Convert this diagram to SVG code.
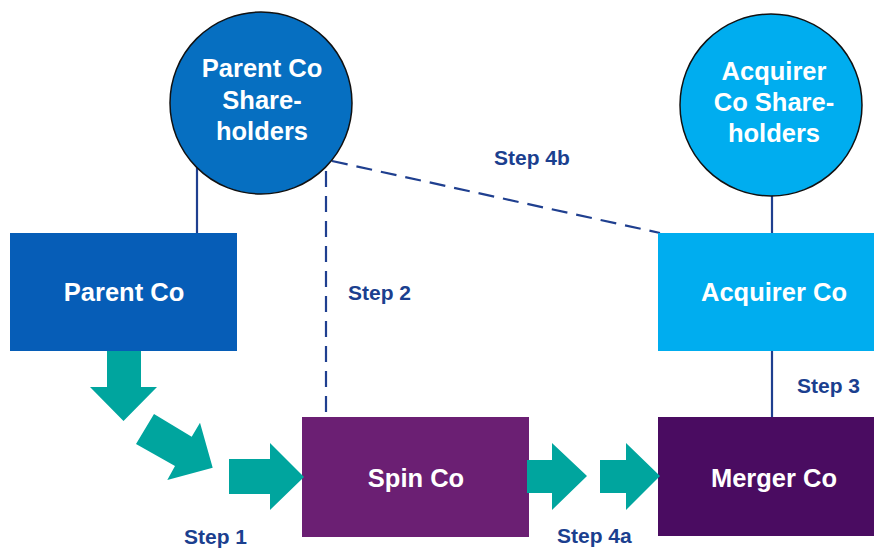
<svg xmlns="http://www.w3.org/2000/svg" width="874" height="550" viewBox="0 0 874 550">
<style>
.lbl{font-family:"Liberation Sans",Arial,sans-serif;font-weight:bold;fill:#ffffff;font-size:25.5px;text-anchor:middle}
.step{font-family:"Liberation Sans",Arial,sans-serif;font-weight:bold;fill:#1b3f8f;font-size:21px}
.ln{stroke:#1f3f8f;stroke-width:2.2;fill:none}
.dash{stroke:#1f3f8f;stroke-width:2.2;fill:none;stroke-dasharray:16 9}
.arr{fill:#00a59e}
.circ{stroke:#111111;stroke-width:1.5}
</style>
<rect width="874" height="550" fill="#ffffff"/>
<g id="connectors">
<line class="ln" x1="197" y1="168" x2="197" y2="233"/>
<line class="ln" x1="772" y1="194" x2="772" y2="233"/>
<line class="ln" x1="772" y1="351" x2="772" y2="417"/>
<line class="dash" x1="326" y1="171" x2="326" y2="417"/>
<line class="dash" x1="332" y1="161" x2="660" y2="233"/>
</g>
<g id="parent-shareholders">
<circle class="circ" cx="261" cy="103" r="91" fill="#066fc1"/>
<text class="lbl" x="262" y="77">Parent Co</text>
<text class="lbl" x="262" y="109">Share-</text>
<text class="lbl" x="262" y="140">holders</text>
</g>
<g id="acquirer-shareholders">
<circle class="circ" cx="771" cy="105" r="91" fill="#00adef"/>
<text class="lbl" x="774" y="80">Acquirer</text>
<text class="lbl" x="774" y="111">Co Share-</text>
<text class="lbl" x="774" y="142">holders</text>
</g>
<g id="parent-co">
<rect x="10" y="233" width="227" height="118" fill="#065db7"/>
<text class="lbl" x="124" y="301">Parent Co</text>
</g>
<g id="acquirer-co">
<rect x="658" y="233" width="216" height="118" fill="#00adef"/>
<text class="lbl" x="774" y="301">Acquirer Co</text>
</g>
<g id="spin-co">
<rect x="302" y="417" width="227" height="120" fill="#6b1f73"/>
<text class="lbl" x="416" y="487">Spin Co</text>
</g>
<g id="merger-co">
<rect x="658" y="417" width="216" height="119" fill="#4a0c61"/>
<text class="lbl" x="774" y="487">Merger Co</text>
</g>
<g id="arrows">
<polygon class="arr" points="107,351 141,351 141,387 157,387 123.5,421 90,387 107,387"/>
<polygon class="arr" points="154,414 191.7,436.7 200,422.7 212.7,467.7 167.3,480 175,466 136,444"/>
<polygon class="arr" points="229,459 270,459 270,443 304,477 270,510 270,494 229,494"/>
<polygon class="arr" points="527,460 552,460 552,443 587,476 552,510 552,493 527,493"/>
<polygon class="arr" points="600,460 626,460 626,443 660,476 626,510 626,493 600,493"/>
</g>
<g id="step-labels">
<text class="step" x="348" y="300">Step 2</text>
<text class="step" x="494" y="165">Step 4b</text>
<text class="step" x="797" y="393">Step 3</text>
<text class="step" x="184" y="544">Step 1</text>
<text class="step" x="557" y="543">Step 4a</text>
</g>
</svg>
